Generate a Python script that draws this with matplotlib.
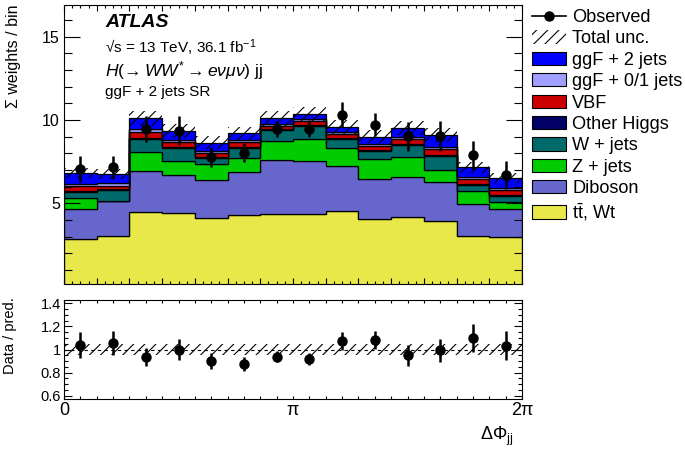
import numpy as np
import matplotlib
matplotlib.use("Agg")
from matplotlib import pyplot as plt
from matplotlib.patches import Patch
from matplotlib.lines import Line2D
from matplotlib.ticker import MultipleLocator, AutoMinorLocator

plt.rcParams['font.family'] = ['Liberation Sans', 'DejaVu Sans']
plt.rcParams['mathtext.fontset'] = 'custom'
plt.rcParams['mathtext.rm'] = 'Liberation Sans'
plt.rcParams['mathtext.it'] = 'Liberation Sans:italic'
plt.rcParams['mathtext.bf'] = 'Liberation Sans:bold'
plt.rcParams['hatch.linewidth'] = 0.8

#******************************************************************
# data (14 bins in DeltaPhi_jj from 0 to 2pi)
#******************************************************************
n_bins = 14
edges = np.linspace(0, 2*np.pi, n_bins + 1)
centers = 0.5*(edges[1:] + edges[:-1])

ttbar   = [2.84, 3.06, 4.50, 4.40, 4.14, 4.30, 4.38, 4.34, 4.56, 4.04, 4.16, 3.94, 3.06, 3.00]
diboson = [1.80, 2.08, 2.44, 2.30, 2.26, 2.60, 3.22, 3.20, 2.68, 2.40, 2.40, 2.34, 1.88, 1.66]
zjets   = [0.66, 0.00, 1.12, 0.86, 0.96, 0.84, 1.16, 1.30, 1.06, 1.20, 1.20, 0.72, 0.82, 0.40]
wjets   = [0.40, 0.66, 0.80, 0.74, 0.34, 0.60, 0.64, 0.80, 0.56, 0.52, 0.74, 0.86, 0.34, 0.38]
other_h = [0.06, 0.06, 0.06, 0.06, 0.06, 0.06, 0.06, 0.06, 0.06, 0.06, 0.06, 0.06, 0.06, 0.06]
vbf     = [0.26, 0.20, 0.38, 0.30, 0.24, 0.30, 0.20, 0.24, 0.22, 0.22, 0.28, 0.32, 0.30, 0.30]
ggf01   = [0.12, 0.14, 0.14, 0.14, 0.14, 0.10, 0.10, 0.10, 0.12, 0.12, 0.12, 0.12, 0.14, 0.14]
ggf2j   = [0.68, 0.56, 0.66, 0.56, 0.50, 0.40, 0.34, 0.30, 0.34, 0.44, 0.54, 0.74, 0.56, 0.56]

# total uncertainty on the prediction (absolute)
tot_unc = [0.30, 0.30, 0.45, 0.42, 0.38, 0.40, 0.45, 0.46, 0.42, 0.40, 0.42, 0.40, 0.32, 0.29]

observed = [7.07, 7.15, 9.46, 9.36, 7.78, 8.04, 9.46, 9.48, 10.31, 9.72, 9.02, 9.05, 7.88, 6.72]
obs_err  = [0.78, 0.70, 0.77, 0.87, 0.60, 0.56, 0.50, 0.53, 0.76, 0.71, 0.86, 0.91, 0.86, 0.84]

labels = ['t$\\bar{\\mathrm{t}}$, Wt', 'Diboson', 'Z + jets', 'W + jets',
          'Other Higgs', 'VBF', 'ggF + 0/1 jets', 'ggF + 2 jets']
colors = ['#e8e84a', '#6666cc', '#00cc00', '#006a6a',
          '#000066', '#cc0000', '#a0a0ff', '#0000ff']
stack = [ttbar, diboson, zjets, wjets, other_h, vbf, ggf01, ggf2j]

#generate figure
fig = plt.figure(figsize=(6.85, 4.55), dpi=100)
ax = fig.add_axes([64/685, 1 - 284/455, 458/685, 279/455])
axr = fig.add_axes([64/685, 1 - 399/455, 458/685, 99/455])

#stacked histograms
base = np.zeros(n_bins)
for vals, col in zip(stack, colors):
	top = base + np.array(vals)
	ax.stairs(top, edges, baseline=base, fill=True, facecolor=col,
	          edgecolor='black', linewidth=0.9)
	base = top
total = base
unc = np.array(tot_unc)

#uncertainty band
bw = edges[1] - edges[0]
ax.bar(centers, 2*unc, bottom=total - unc, width=bw, fill=False,
       hatch='///', linewidth=0, edgecolor='black')

#observed
ax.errorbar(centers, observed, yerr=obs_err, fmt='o', color='black',
            ms=6.5, elinewidth=1.8, capsize=0)

ax.set_xlim(0, 2*np.pi)
ax.set_ylim(0.16, 16.9)
ax.yaxis.set_major_locator(MultipleLocator(5))
ax.yaxis.set_minor_locator(MultipleLocator(1))
ax.set_xticks(edges)
ax.xaxis.set_minor_locator(AutoMinorLocator(4))
ax.set_xticklabels([])
ax.tick_params(which='both', direction='in', top=True, right=True, labelsize=11.5, pad=3)
ax.tick_params(axis='y', which='major', length=11.5, width=0.8)
ax.tick_params(axis='y', which='minor', length=6, width=0.8)
ax.tick_params(axis='x', which='major', length=4.5, width=0.8)
ax.tick_params(axis='x', which='minor', length=2.5, width=0.8)

#ratio panel
obs = np.array(observed)
ratio = obs/total
ratio_err = np.array(obs_err)/total
axr.bar(centers, 2*unc/total, bottom=1 - unc/total, width=bw, fill=False,
        hatch='///', linewidth=0, edgecolor='black')
axr.axhline(1, color='black', lw=0.8, ls=(0, (3, 3)))
axr.errorbar(centers, ratio, yerr=ratio_err, fmt='o', color='black',
             ms=6.5, elinewidth=1.8, capsize=0)
axr.set_xlim(0, 2*np.pi)
axr.set_ylim(0.57, 1.43)
axr.set_yticks([0.6, 0.8, 1.0, 1.2, 1.4])
axr.set_yticklabels(['0.6', '0.8', '1', '1.2', '1.4'])
axr.yaxis.set_minor_locator(MultipleLocator(0.05))
xlab = [''] * (n_bins + 1)
xlab[0] = '0'
xlab[7] = '\u03c0'
xlab[14] = '2\u03c0'
axr.set_xticks(edges)
axr.set_xticklabels(xlab)
axr.xaxis.set_minor_locator(AutoMinorLocator(2))
axr.tick_params(which='both', direction='in', top=True, right=True, pad=2)
axr.tick_params(axis='y', labelsize=10.5)
axr.tick_params(axis='x', labelsize=13)
axr.tick_params(axis='y', which='major', length=6, width=0.8)
axr.tick_params(axis='y', which='minor', length=3, width=0.8)
axr.tick_params(axis='x', which='major', length=2.5, width=0.8)
axr.tick_params(axis='x', which='minor', length=2, width=0.8)

#axis labels
fig.text(14/685, 1 - 5/455, '\u03a3 weights / bin', rotation=90, ha='center', va='top', fontsize=11.5)
fig.text(10/685, 1 - 336/455, 'Data / pred.', rotation=90, ha='center', va='center', fontsize=10.5)
fig.text(513/685, 1 - 440/455, '$\\mathrm{\\Delta\\Phi_{jj}}$', ha='right', va='baseline', fontsize=13)

#ATLAS labels
fig.text(105/685, 1 - 27/455, 'ATLAS', fontsize=14, fontweight='bold', fontstyle='italic', va='baseline')
fig.text(105/685, 1 - 53/455, '\u221as = 13 TeV, 36.1 fb$^{-1}$', fontsize=11, va='baseline')
fig.text(105/685, 1 - 76/455, '$H(\\!\\rightarrow WW^{*} \\rightarrow e\\nu\\mu\\nu)$ jj', fontsize=12.6, va='baseline')
fig.text(105/685, 1 - 96/455, 'ggF + 2 jets SR', fontsize=11, va='baseline')

#legend
handles = [Line2D([], [], color='black', marker='o', ms=6.5, lw=1.2),
           Patch(facecolor='none', edgecolor='black', hatch='///', linewidth=0)]
names = ['Observed', 'Total unc.']
for lab, col in zip(labels[::-1], colors[::-1]):
	handles.append(Patch(facecolor=col, edgecolor='black', linewidth=0.8))
	names.append(lab)
fig.legend(handles, names, loc='upper left', bbox_to_anchor=(532/685, 1 - 9/455),
           frameon=False, fontsize=13.1, handlelength=1.86, handleheight=0.75,
           handletextpad=0.36, labelspacing=0.24, borderaxespad=0, borderpad=0)

fig.savefig('out.png', dpi=100)
